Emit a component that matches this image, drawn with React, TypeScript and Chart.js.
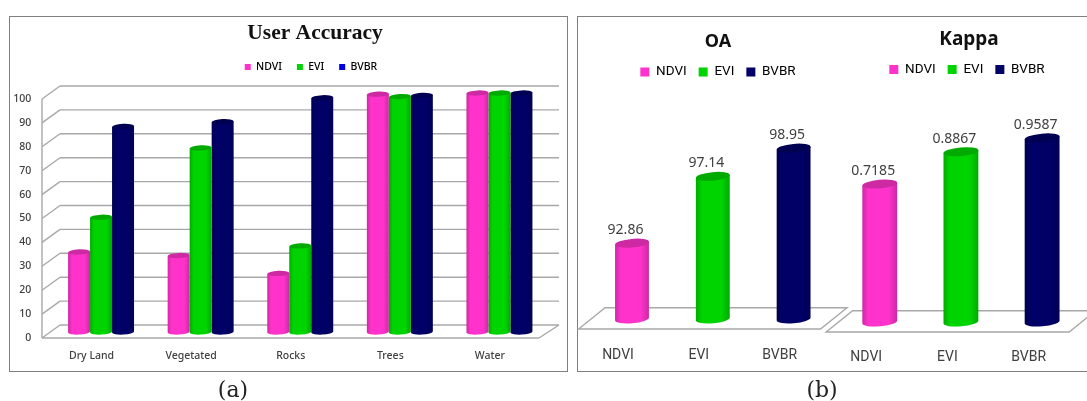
import React, { useEffect, useRef } from "react";
import { Chart, registerables } from "chart.js";

Chart.register(...registerables);

const categories = ["Dry Land", "Vegetated", "Rocks", "Trees", "Water"];
const ndviAccuracy = [33.5, 32, 24.5, 99.5, 100];
const eviAccuracy = [48, 77, 36, 98.5, 100];
const bvbrAccuracy = [86, 88, 98, 99, 100];
const indexNames = ["NDVI", "EVI", "BVBR"];
const oaValues = [92.86, 97.14, 98.95];
const kappaValues = [0.7185, 0.8867, 0.9587];
const barColors = ["#ff33cc", "#00d400", "#000066"];
const accuracyLegendColors = ["#ff33cc", "#00d400", "#0000e0"];

const shade = (hex: string, k: number) => {
  const n = parseInt(hex.slice(1), 16);
  const f = (v: number) => Math.round(v * k);
  return `rgb(${f((n >> 16) & 255)},${f((n >> 8) & 255)},${f(n & 255)})`;
};

function drawCylinder(ctx: any, x: number, top: number, base: number, w: number, ry: number, rot: number, color: string) {
  const r = w / 2;
  const g = ctx.createLinearGradient(x - r, 0, x + r, 0);
  g.addColorStop(0, shade(color, 0.8));
  g.addColorStop(0.18, color);
  g.addColorStop(0.75, color);
  g.addColorStop(1, shade(color, 0.8));
  ctx.beginPath();
  ctx.ellipse(x, base, r, ry, rot, Math.PI, 0, true);
  ctx.lineTo(x + r * Math.cos(rot), top + r * Math.sin(rot));
  ctx.lineTo(x - r * Math.cos(rot), top - r * Math.sin(rot));
  ctx.closePath();
  ctx.fillStyle = g;
  ctx.fill();
  ctx.beginPath();
  ctx.ellipse(x, top, r, ry, rot, 0, Math.PI * 2);
  ctx.fillStyle = shade(color, 0.8);
  ctx.fill();
}

type PanelSpec = {
  left: number;
  top: number;
  width: number;
  height: number;
  labels: string[];
  series: { label: string; data: number[]; color: string | string[] }[];
  legendColors: string[];
  title: string;
  titleFont: any;
  titleX: number;
  titleY: number;
  legendFont: any;
  legendBox: number;
  legendGap: number;
  legendX: number;
  legendY: number;
  plotTop: number;
  plotLeft: number;
  padRight: number;
  xHeight: number;
  xPadding: number;
  xOffset: number;
  tickFont: any;
  barWidth: number;
  ry: number;
  rot: number;
  yMin: number;
  yMax: number;
  showY: boolean;
  decimals?: number;
  floor?: boolean;
};

function Panel({ spec }: { spec: PanelSpec }) {
  const ref = useRef<HTMLCanvasElement>(null);
  useEffect(() => {
    const titleH = spec.titleFont.size * 1.2;
    const legendH = spec.legendFont.size + spec.legendGap + 10;
    const plugin = {
      id: "panelDecor",
      afterLayout(chart: any) {
        const t = chart.titleBlock;
        const dt = spec.titleX - (t.left + t.right) / 2;
        t.left += dt;
        t.right += dt;
        const th = t.bottom - t.top;
        t.top = spec.titleY - th / 2;
        t.bottom = t.top + th;
        const l = chart.legend;
        const dl = spec.legendX - (l.left + l.right) / 2;
        l.left += dl;
        l.right += dl;
        const lh = l.bottom - l.top;
        l.top = spec.legendY - spec.legendGap - spec.legendFont.size / 2;
        l.bottom = l.top + lh;
      },
      beforeDatasetsDraw(chart: any) {
        const { ctx, chartArea: a, scales } = chart;
        const y = scales.y;
        ctx.save();
        ctx.strokeStyle = "#a8a8a8";
        ctx.lineWidth = 1.4;
        const seg = (x1: number, y1: number, x2: number, y2: number) => {
          ctx.beginPath();
          ctx.moveTo(x1, y1);
          ctx.lineTo(x2, y2);
          ctx.stroke();
        };
        if (spec.floor) {
          const front = y.getPixelForValue(spec.yMin) + 10;
          const back = y.getPixelForValue(spec.yMin) - 11.3;
          ctx.beginPath();
          ctx.moveTo(a.left - 13, front);
          ctx.lineTo(a.right - 13.5, front);
          ctx.lineTo(a.right + 13, back);
          ctx.lineTo(a.left + 13.5, back);
          ctx.closePath();
          ctx.stroke();
        } else {
          const fl = a.left - 9.25;
          const bl = a.left + 8.75;
          const br = a.right + 9.75;
          const fr = a.right - 10.25;
          y.ticks.forEach((t: any) => {
            const p = y.getPixelForValue(t.value);
            seg(fl, p + 6, bl, p - 7);
            seg(bl, p - 7, br, p - 7);
          });
          const p0 = y.getPixelForValue(spec.yMin);
          seg(fl, y.getPixelForValue(spec.yMax) + 6, fl, p0 + 6);
          seg(fl, p0 + 6, fr, p0 + 6);
          seg(fr, p0 + 6, br, p0 - 7);
        }
        ctx.restore();
      },
      beforeDatasetDraw(chart: any, args: any) {
        const { ctx } = chart;
        const ds = chart.data.datasets[args.index];
        args.meta.data.forEach((bar: any, i: number) => {
          const c = Array.isArray(ds.backgroundColor) ? ds.backgroundColor[i] : ds.backgroundColor;
          drawCylinder(ctx, bar.x, bar.y, bar.base, bar.width, spec.ry, spec.rot, c);
        });
        return false;
      },
      afterDatasetsDraw(chart: any) {
        if (spec.decimals === undefined) return;
        const { ctx } = chart;
        ctx.save();
        ctx.font = "14px 'Noto Sans'";
        ctx.fillStyle = "#404040";
        ctx.textAlign = "center";
        ctx.textBaseline = "middle";
        const meta = chart.getDatasetMeta(0);
        meta.data.forEach((bar: any, i: number) => {
          ctx.fillText(chart.data.datasets[0].data[i].toFixed(spec.decimals), bar.x - 6.5, bar.y - 13);
        });
        ctx.restore();
      },
    };
    const chart = new Chart(ref.current as HTMLCanvasElement, {
      type: "bar",
      data: {
        labels: spec.labels,
        datasets: spec.series.map((s) => ({
          label: s.label,
          data: s.data,
          backgroundColor: s.color as any,
          barThickness: spec.barWidth,
          base: spec.yMin,
        })),
      },
      plugins: [plugin as any],
      options: {
        animation: false,
        responsive: false,
        layout: {
          padding: {
            top: spec.plotTop - titleH - legendH,
            right: spec.padRight,
            left: spec.showY ? 0 : spec.plotLeft,
            bottom: 0,
          },
        },
        plugins: {
          tooltip: { enabled: false },
          title: {
            display: true,
            text: spec.title,
            font: { ...spec.titleFont, lineHeight: 1.2 },
            color: "#111111",
            padding: 0,
          },
          legend: {
            display: true,
            position: "top",
            onClick: undefined as any,
            labels: {
              font: spec.legendFont,
              color: "#404040",
              boxWidth: spec.legendBox,
              boxHeight: spec.legendBox,
              padding: spec.legendGap,
              generateLabels: () =>
                indexNames.map((name, i) => ({
                  text: name,
                  fillStyle: spec.legendColors[i],
                  strokeStyle: spec.legendColors[i],
                  lineWidth: 0,
                  hidden: false,
                  datasetIndex: 0,
                })),
            },
          },
        },
        scales: {
          x: {
            grid: { display: false, drawTicks: false },
            border: { display: false },
            afterFit: (s: any) => {
              s.height = spec.xHeight;
            },
            ticks: {
              font: spec.tickFont,
              color: "#404040",
              padding: spec.xPadding,
              labelOffset: spec.xOffset,
              maxRotation: 0,
              autoSkip: false,
            },
          },
          y: {
            display: spec.showY,
            min: spec.yMin,
            max: spec.yMax,
            grid: { display: false, drawTicks: false },
            border: { display: false },
            afterFit: (s: any) => {
              s.width = spec.showY ? spec.plotLeft : 0;
            },
            ticks: {
              stepSize: 10,
              font: spec.tickFont,
              color: "#404040",
              padding: 20,
              labelOffset: 6,
            },
          },
        },
      },
    } as any);
    return () => chart.destroy();
  }, [spec]);
  return (
    <canvas
      ref={ref}
      width={spec.width}
      height={spec.height}
      style={{
        position: "absolute",
        left: spec.left,
        top: spec.top,
        width: spec.width,
        height: spec.height,
        filter: "blur(0.45px)",
      }}
    />
  );
}

const narrow = "Roboto";

const accuracySpec: PanelSpec = {
  left: 9, top: 16, width: 558, height: 357,
  labels: categories,
  series: [
    { label: indexNames[0], data: ndviAccuracy, color: barColors[0] },
    { label: indexNames[1], data: eviAccuracy, color: barColors[1] },
    { label: indexNames[2], data: bvbrAccuracy, color: barColors[2] },
  ],
  legendColors: accuracyLegendColors,
  title: "User Accuracy",
  titleFont: { family: "'Liberation Serif'", size: 21.5, weight: "bold" },
  titleX: 306, titleY: 17,
  legendFont: { family: "'Noto Sans'", size: 10.5, weight: "500" },
  legendBox: 6, legendGap: 15, legendX: 302, legendY: 51,
  plotTop: 77, plotLeft: 42.25, padRight: 17.75,
  xHeight: 41, xPadding: 18, xOffset: -9.5,
  tickFont: { family: "'Noto Sans'", size: 10.5, weight: "500" },
  barWidth: 22, ry: 2.6, rot: -0.05,
  yMin: 0, yMax: 100, showY: true,
};

const oaSpec: PanelSpec = {
  left: 577, top: 16, width: 273, height: 357,
  labels: indexNames,
  series: [{ label: "OA", data: oaValues, color: barColors }],
  legendColors: barColors,
  title: "OA",
  titleFont: { family: "'Noto Sans'", size: 18, weight: "bold" },
  titleX: 141, titleY: 26,
  legendFont: { family: narrow, size: 13.5 },
  legendBox: 9, legendGap: 12, legendX: 141, legendY: 56,
  plotTop: 115.8, plotLeft: 14.6, padRight: 16,
  xHeight: 54, xPadding: 28, xOffset: -14,
  tickFont: { family: narrow, size: 14 },
  barWidth: 34, ry: 4.3, rot: -0.09,
  yMin: 88, yMax: 100, showY: false, decimals: 2, floor: true,
};

const kappaSpec: PanelSpec = {
  left: 822, top: 16, width: 265, height: 357,
  labels: indexNames,
  series: [{ label: "Kappa", data: kappaValues, color: barColors }],
  legendColors: barColors,
  title: "Kappa",
  titleFont: { family: "'Noto Sans'", size: 19, weight: "bold" },
  titleX: 147, titleY: 24,
  legendFont: { family: narrow, size: 13.5 },
  legendBox: 9, legendGap: 12, legendX: 145, legendY: 53.5,
  plotTop: 114, plotLeft: 17.15, padRight: 2.85,
  xHeight: 51, xPadding: 27, xOffset: -13.5,
  tickFont: { family: narrow, size: 14 },
  barWidth: 35, ry: 4.3, rot: -0.09,
  yMin: 0, yMax: 1, showY: false, decimals: 4, floor: true,
};

const frameStyle: React.CSSProperties = {
  position: "absolute",
  top: 16,
  height: 356,
  border: "1.5px solid #808080",
  boxSizing: "border-box",
  filter: "blur(0.4px)",
};

const captionStyle: React.CSSProperties = {
  position: "absolute",
  top: 376,
  fontFamily: "'DejaVu Serif'",
  fontSize: 22,
  lineHeight: "28px",
  color: "#222",
  transform: "translateX(-50%)",
  filter: "blur(0.4px)",
};

export default function App() {
  return (
    <div style={{ position: "fixed", left: 0, top: 0, width: 1087, height: 401, overflow: "hidden", background: "#fff" }}>
      <div style={{ ...frameStyle, left: 9, width: 559 }} />
      <div style={{ ...frameStyle, left: 577, width: 530 }} />
      <Panel spec={accuracySpec} />
      <Panel spec={oaSpec} />
      <Panel spec={kappaSpec} />
      <div style={{ ...captionStyle, left: 233 }}>(a)</div>
      <div style={{ ...captionStyle, left: 822 }}>(b)</div>
    </div>
  );
}
